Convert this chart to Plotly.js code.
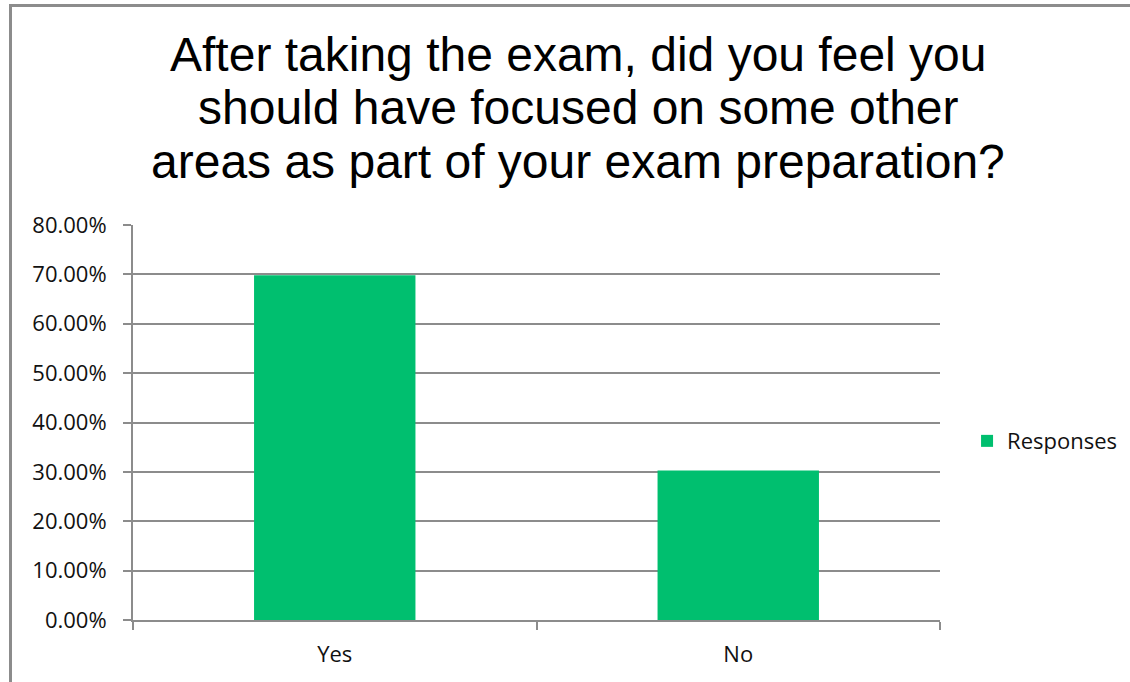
<!DOCTYPE html>
<html>
<head>
<meta charset="utf-8">
<script src="https://cdn.plot.ly/plotly-3.0.1.min.js"></script>
<style>
html,body{margin:0;padding:0;background:#fff;}
#wrap{position:relative;width:1130px;height:682px;overflow:hidden;}
#chart{position:absolute;left:0;top:0;width:1130px;height:682px;}
#frame{position:absolute;left:9px;top:4px;width:1200px;height:800px;border-left:3px solid #8c8c8c;border-top:3px solid #8c8c8c;pointer-events:none;}
</style>
</head>
<body>
<div id="wrap"><div id="chart"></div><div id="frame"></div></div>
<script>
const categories = ["Yes", "No"];
const responses = [0.698, 0.303];
const seriesName = "Responses";
const yTicks = [0, 0.1, 0.2, 0.3, 0.4, 0.5, 0.6, 0.7, 0.8];
const titleLines = [
  "After taking the exam, did you feel you",
  "should have focused on some other",
  "areas as part of your exam preparation?"
];

const trace = {
  type: "bar",
  x: categories,
  y: responses,
  name: seriesName,
  width: 0.4,
  marker: {color: "#00BF6F"},
  showlegend: true,
  hoverinfo: "x+y"
};

const titleY = [1.432, 1.298, 1.161];
const annotations = titleLines.map((t, i) => ({
  text: t, xref: "paper", yref: "paper",
  x: 0.552, y: titleY[i], xanchor: "center", yanchor: "middle",
  showarrow: false,
  font: {family: "Liberation Sans, Arial, sans-serif", size: 48, color: "#000"}
}));

const layout = {
  width: 1130, height: 682,
  paper_bgcolor: "#ffffff", plot_bgcolor: "#ffffff",
  margin: {l: 133, r: 190, t: 225, b: 62, pad: 0, autoexpand: false},
  annotations: annotations,
  showlegend: true,
  legend: {
    x: 0.8558, xref: "container", xanchor: "left", y: 0.453, yanchor: "middle",
    font: {family: "Open Sans, sans-serif", size: 22, color: "#111"},
    itemwidth: 30, bgcolor: "rgba(0,0,0,0)"
  },
  xaxis: {
    type: "category",
    showgrid: false,
    showline: true, linecolor: "#8c8c8c", linewidth: 2,
    ticks: "outside", ticklen: 8, tickcolor: "#8c8c8c", tickwidth: 2,
    tickson: "boundaries",
    tickfont: {family: "Open Sans, sans-serif", size: 22, color: "#111"},
    ticklabelstandoff: 14,
    range: [-0.5, 1.5]
  },
  yaxis: {
    range: [0, 0.8],
    tickvals: yTicks,
    tickformat: ".2%",
    showgrid: true, gridcolor: "#8c8c8c", gridwidth: 2,
    showline: true, linecolor: "#8c8c8c", linewidth: 2,
    ticks: "outside", ticklen: 8, tickcolor: "#8c8c8c", tickwidth: 2,
    tickfont: {family: "Open Sans, sans-serif", size: 22, color: "#111"},
    ticklabelstandoff: 12,
    zeroline: false
  }
};

Plotly.newPlot("chart", [trace], layout, {displayModeBar: false, staticPlot: true});
</script>
</body>
</html>
